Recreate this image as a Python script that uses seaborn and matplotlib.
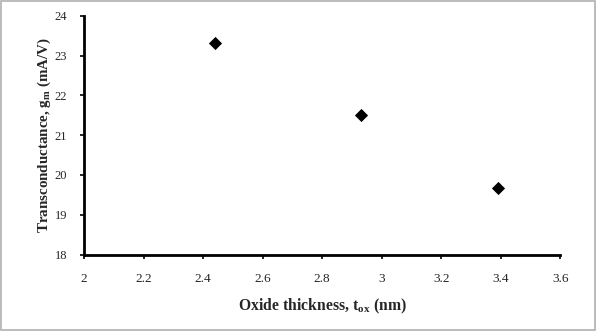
import matplotlib
matplotlib.use("Agg")
import matplotlib.pyplot as plt
import seaborn as sns
import pandas as pd
from matplotlib.patches import Rectangle

oxide_thickness = [2.44, 2.93, 3.39]
transconductance = [23.31, 21.51, 19.68]
x_ticks = [2, 2.2, 2.4, 2.6, 2.8, 3, 3.2, 3.4, 3.6]
y_ticks = [18, 19, 20, 21, 22, 23, 24]

df = pd.DataFrame({"tox": oxide_thickness, "gm": transconductance})

sns.set_style("white")
plt.rcParams["font.family"] = ["Liberation Serif", "DejaVu Serif"]
plt.rcParams["mathtext.fontset"] = "custom"
plt.rcParams["mathtext.rm"] = "Liberation Serif"
plt.rcParams["mathtext.bf"] = "Liberation Serif:bold"

fig = plt.figure(figsize=(5.96, 3.31), dpi=100)
ax = fig.add_axes([0.141, 0.231, 0.799, 0.721])

sns.scatterplot(data=df, x="tox", y="gm", marker="D", s=45, color="black",
                edgecolor="black", linewidth=0, ax=ax)

ax.set_xlim(2, 3.6)
ax.set_ylim(18, 24)
ax.set_xticks(x_ticks)
ax.set_xticklabels([f"{v:g}" for v in x_ticks])
ax.set_yticks(y_ticks)
ax.set_yticklabels([str(v) for v in y_ticks])

for side in ["top", "right"]:
    ax.spines[side].set_visible(False)
for side in ["left", "bottom"]:
    ax.spines[side].set_linewidth(2)
    ax.spines[side].set_color("black")

ax.tick_params(axis="both", direction="out", length=3, width=1.2, color="black",
               bottom=True, left=True)
ax.tick_params(axis="x", labelsize=9.5, pad=10)
ax.tick_params(axis="y", labelsize=9, pad=9)

ax.set_xlabel(r"Oxide thickness, t$_{\mathbf{ox}}$ (nm)", fontsize=11.3,
              fontweight="bold", labelpad=9)
ax.set_ylabel(r"Transconductance, g$_{\mathbf{m}}$ (mA/V)", fontsize=10.8,
              fontweight="bold", labelpad=1)

fig.patches.append(Rectangle((0.002, 0.003), 0.996, 0.994, transform=fig.transFigure,
                             fill=False, edgecolor="#b0b0b0", linewidth=1.2))

fig.savefig("out.png", dpi=100)
